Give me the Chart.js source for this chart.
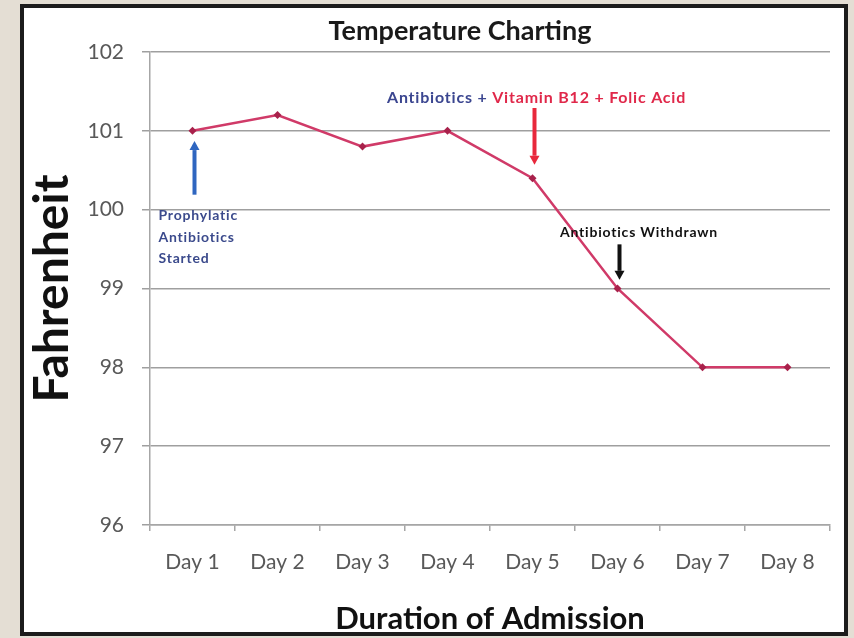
<!DOCTYPE html>
<html>
<head>
<meta charset="utf-8">
<script src="https://cdn.jsdelivr.net/npm/chart.js@4/dist/chart.umd.min.js"></script>
<style>
  html, body { margin: 0; padding: 0; background: #e4ded4; width: 854px; height: 638px; overflow: hidden; }
  #panel { position: absolute; left: 20px; top: 4px; width: 828px; height: 632px; box-sizing: border-box;
           border: 4px solid #1c1c1c; background: #ffffff; }
  #c { position: absolute; left: 0; top: 0; }
</style>
</head>
<body>
<div id="panel"><canvas id="c" width="820" height="624"></canvas></div>
<script>
// ---- data ----
const categories = ['Day 1', 'Day 2', 'Day 3', 'Day 4', 'Day 5', 'Day 6', 'Day 7', 'Day 8'];
const temperature = [101.0, 101.2, 100.8, 101.0, 100.4, 99.0, 98.0, 98.0];
const yMin = 96, yMax = 102, yStep = 1;
const chartTitle = 'Temperature Charting';
const xTitle = 'Duration of Admission';
const yTitle = 'Fahrenheit';

// annotations anchored in data coordinates (category index, temperature)
const arrowNotes = [
  { x: 0, from: 100.19, to: 100.87, color: '#2f66c0' },
  { x: 4, from: 101.29, to: 100.57, color: '#e8283c' },
  { x: 5, from: 99.56, to: 99.11, color: '#111111' }
];
const textNotes = [
  { x: -0.40, y: 99.92, size: 14, align: 'left', parts: [['Prophylatic', '#3b4a8c']] },
  { x: -0.40, y: 99.65, size: 14, align: 'left', parts: [['Antibiotics', '#3b4a8c']] },
  { x: -0.40, y: 99.38, size: 14, align: 'left', parts: [['Started', '#3b4a8c']] },
  { x: 2.288, y: 101.42, size: 16, align: 'left', parts: [['Antibiotics + ', '#3b4690'], ['Vitamin B12 + Folic Acid', '#e0284a']] },
  { x: 5.253, y: 99.71, size: 14, align: 'center', parts: [['Antibiotics Withdrawn', '#111111']] }
];

const FONT = 'Lato, "Open Sans", "DejaVu Sans", sans-serif';

const notesPlugin = {
  id: 'notes',
  afterDatasetsDraw(chart) {
    const ctx = chart.ctx;
    const xs = chart.scales.x, ys = chart.scales.y;
    ctx.save();
    // main title
    ctx.fillStyle = '#1a1a1a';
    ctx.font = 'bold 27px ' + FONT;
    ctx.textAlign = 'center';
    ctx.textBaseline = 'middle';
    ctx.fillText(chartTitle, 436, 23);

    // arrows
    arrowNotes.forEach(a => {
      const px = xs.getPixelForValue(a.x) + 2;
      const y0 = ys.getPixelForValue(a.from);
      const y1 = ys.getPixelForValue(a.to);
      const dir = y1 < y0 ? -1 : 1;
      const head = 9;
      ctx.strokeStyle = a.color;
      ctx.fillStyle = a.color;
      ctx.lineWidth = 4;
      ctx.beginPath();
      ctx.moveTo(px, y0);
      ctx.lineTo(px, y1 - dir * head);
      ctx.stroke();
      ctx.beginPath();
      ctx.moveTo(px, y1);
      ctx.lineTo(px - 5, y1 - dir * head);
      ctx.lineTo(px + 5, y1 - dir * head);
      ctx.closePath();
      ctx.fill();
    });

    // text notes
    ctx.textBaseline = 'middle';
    if ('letterSpacing' in ctx) ctx.letterSpacing = '0.8px';
    textNotes.forEach(t => {
      ctx.font = 'bold ' + t.size + 'px ' + FONT;
      let px = xs.getPixelForValue(t.x);
      const py = ys.getPixelForValue(t.y);
      const total = t.parts.reduce((s, p) => s + ctx.measureText(p[0]).width, 0);
      if (t.align === 'center') px -= total / 2;
      ctx.textAlign = 'left';
      t.parts.forEach(p => {
        ctx.fillStyle = p[1];
        ctx.fillText(p[0], px, py);
        px += ctx.measureText(p[0]).width;
      });
    });
    ctx.restore();
  }
};

new Chart(document.getElementById('c'), {
  type: 'line',
  data: {
    labels: categories,
    datasets: [{
      label: 'Temperature',
      data: temperature,
      borderColor: '#d03a68',
      borderWidth: 2.5,
      backgroundColor: '#a8214b',
      pointStyle: 'rectRot',
      pointRadius: 4,
      pointBorderWidth: 0,
      tension: 0
    }]
  },
  options: {
    responsive: false,
    devicePixelRatio: 1,
    animation: false,
    layout: { padding: { top: 44, right: 14, bottom: 0, left: 0 } },
    plugins: {
      legend: { display: false },
      title: { display: false },
      tooltip: { enabled: false }
    },
    scales: {
      x: {
        offset: true,
        grid: { offset: true, drawOnChartArea: false, drawTicks: true, tickLength: 6, color: '#a6a6a6', lineWidth: 1.5 },
        border: { color: '#a6a6a6', width: 1.5 },
        ticks: { color: '#595959', font: { family: FONT, size: 21 }, padding: 19, maxRotation: 0 },
        title: { display: true, text: xTitle, color: '#111111',
                 font: { family: FONT, size: 31, weight: 'bold', lineHeight: 0.85 }, padding: { top: 0, bottom: 0 } },
        afterFit(scale) { scale.height = 107; }
      },
      y: {
        min: yMin, max: yMax,
        grid: { color: '#9f9f9f', lineWidth: 1.5, tickLength: 8 },
        border: { color: '#a6a6a6', width: 1.5 },
        ticks: { stepSize: yStep, color: '#595959', font: { family: FONT, size: 21 }, padding: 18 },
        title: { display: true, text: yTitle, color: '#111111',
                 font: { family: FONT, size: 48, weight: 'bold', lineHeight: 1.2 }, padding: { top: 0, bottom: 0 } },
        afterFit(scale) { scale.width = 126; }
      }
    }
  },
  plugins: [notesPlugin]
});
</script>
</body>
</html>
